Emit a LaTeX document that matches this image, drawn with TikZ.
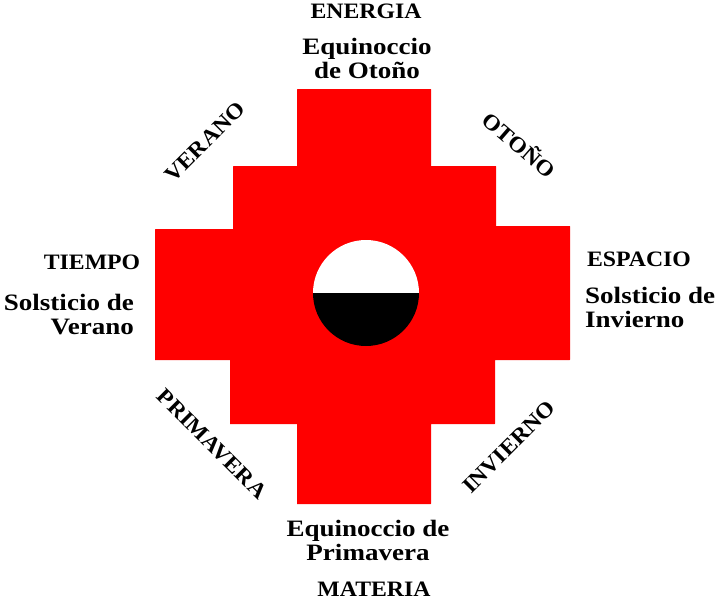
\documentclass[tikz,border=0pt]{standalone}
\usepackage{fontspec}
\setmainfont{Liberation Serif}
\newfontfamily\labfont[FakeStretch=1.15]{Liberation Serif}
\newfontfamily\capfont[FakeStretch=1.08]{Liberation Serif}
\tikzset{
lab/.style={font=\labfont\fontsize{23.5pt}{24pt}\selectfont\bfseries,inner sep=0pt,align=center,text=black},
caplab/.style={font=\capfont\fontsize{22pt}{24pt}\selectfont\bfseries,inner sep=0pt,align=center,text=black}}
\begin{document}
\begin{tikzpicture}[x=1pt,y=-1pt]
\useasboundingbox (0,0) rectangle (718,600);
\fill[red] (297.5,89) -- (430.5,89) -- (431,89.5) -- (431,166) -- (495.5,166) -- (496,166.5) -- (496,226) -- (569.5,226) -- (570,226.5) -- (570,359.5) -- (569.5,360) -- (495,360) -- (495,423.5) -- (494.5,424) -- (431,424) -- (431,503.5) -- (430.5,504) -- (297,504) -- (297,424) -- (230,424) -- (230,360) -- (155,360) -- (155,229.5) -- (155.5,229) -- (233,229) -- (233,166.5) -- (233.5,166) -- (297,166) -- (297,89.5) -- cycle;
\fill[white] (313,293) arc[start angle=180,end angle=0,x radius=53,y radius=-53] -- cycle;
\fill[black] (313,293) arc[start angle=180,end angle=360,x radius=53,y radius=-53] -- cycle;
\node[caplab] (energia) at (366,11) {ENERGIA};
\node[lab] (eo) at (367,58) {Equinoccio\\de Otoño};
\node[caplab,rotate=45] (verano) at (205,142) {VERANO};
\node[caplab,rotate=-41] (otono) at (520,144) {OTOÑO};
\node[caplab] (tiempo) at (92,262) {TIEMPO};
\node[lab,align=right,anchor=east] (sv) at (134,315) {Solsticio de\\Verano};
\node[caplab] (espacio) at (639,259) {ESPACIO};
\node[lab,align=left,anchor=west] (si) at (585,307) {Solsticio de\\Invierno};
\node[caplab,rotate=-45] (prima) at (212,444) {PRIMAVERA};
\node[caplab,rotate=45] (inv) at (509,447) {INVIERNO};
\node[lab] (ep) at (368,540) {Equinoccio de\\Primavera};
\node[caplab] (materia) at (374,589) {MATERIA};
\end{tikzpicture}
\end{document}
